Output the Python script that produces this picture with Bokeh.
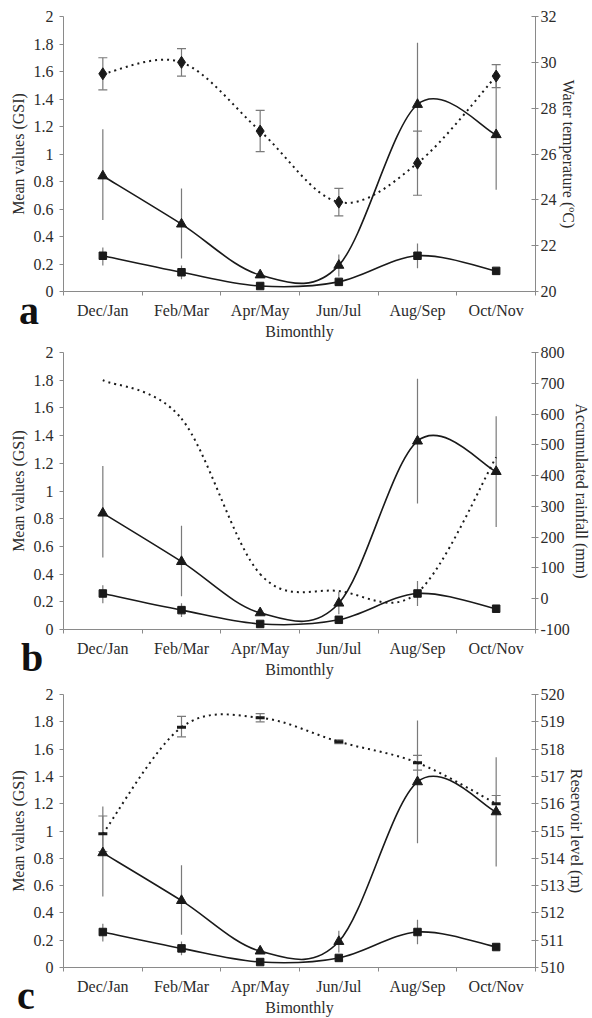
from bokeh.plotting import figure
from bokeh.models import (Range1d, LinearAxis, FixedTicker, NumeralTickFormatter,
                          ColumnDataSource, Whisker, TeeHead, Div)
from bokeh.layouts import column
from bokeh.embed import file_html
from bokeh.resources import INLINE

# ---------------- data ----------------
categories = ["Dec/Jan", "Feb/Mar", "Apr/May", "Jun/Jul", "Aug/Sep", "Oct/Nov"]

gsi_tri = [0.84, 0.49, 0.12, 0.19, 1.36, 1.14]
gsi_tri_lo = [0.52, 0.24, 0.10, 0.11, 0.91, 0.74]
gsi_tri_hi = [1.18, 0.75, 0.14, 0.27, 1.81, 1.54]

gsi_sq = [0.26, 0.14, 0.04, 0.07, 0.26, 0.15]
gsi_sq_lo = [0.19, 0.09, 0.03, 0.06, 0.17, 0.13]
gsi_sq_hi = [0.32, 0.19, 0.05, 0.08, 0.35, 0.17]

temperature = [29.5, 30.0, 27.0, 23.9, 25.6, 29.4]
temperature_lo = [28.8, 29.4, 26.1, 23.3, 24.2, 28.9]
temperature_hi = [30.2, 30.6, 27.9, 24.5, 27.0, 29.9]

rainfall = [710, 585, 80, 25, 20, 460]

reservoir = [514.9, 518.8, 519.15, 518.27, 517.5, 516.0]
reservoir_lo = [514.25, 518.45, 519.0, 518.2, 517.23, 515.7]
reservoir_hi = [515.55, 519.2, 519.3, 518.34, 517.77, 516.3]

gsi_ticks = [0, 0.2, 0.4, 0.6, 0.8, 1, 1.2, 1.4, 1.6, 1.8, 2]
temp_ticks = [20, 22, 24, 26, 28, 30, 32]
rain_ticks = [-100, 0, 100, 200, 300, 400, 500, 600, 700, 800]
res_ticks = [510, 511, 512, 513, 514, 515, 516, 517, 518, 519, 520]

FONT = "Liberation Serif"
TXT = "#2b2b2b"
AX = "#8a8a8a"
LINE = "#1a1a1a"
ERR = "#7a7a7a"

xs = list(range(len(categories)))


def smooth(xv, yv):
    """Bezier control points (Catmull-Rom style) from the data points."""
    n = len(xv)
    d = dict(x0=[], y0=[], x1=[], y1=[], cx0=[], cy0=[], cx1=[], cy1=[])
    for i in range(n - 1):
        a = max(i - 1, 0)
        b = min(i + 2, n - 1)
        d["x0"].append(xv[i]); d["y0"].append(yv[i])
        d["x1"].append(xv[i + 1]); d["y1"].append(yv[i + 1])
        d["cx0"].append(xv[i] + (xv[i + 1] - xv[a]) / 6)
        d["cy0"].append(yv[i] + (yv[i + 1] - yv[a]) / 6)
        d["cx1"].append(xv[i + 1] - (xv[b] - xv[i]) / 6)
        d["cy1"].append(yv[i + 1] - (yv[b] - yv[i]) / 6)
    return ColumnDataSource(d)


def make_panel(height, top, bottom, right_label, right_range, right_ticks):
    p = figure(width=592, height=height, x_range=Range1d(-0.5, 5.5), y_range=Range1d(0, 2),
               output_backend="svg", toolbar_location=None,
               min_border_left=63, min_border_right=50, min_border_top=top,
               min_border_bottom=bottom)
    p.outline_line_color = None
    p.xgrid.visible = False
    p.ygrid.visible = False
    p.background_fill_color = "white"
    p.border_fill_color = "white"

    xa = p.xaxis[0]
    xa.ticker = FixedTicker(ticks=xs, minor_ticks=[i - 0.5 for i in range(len(categories) + 1)])
    xa.major_label_overrides = {i: c for i, c in zip(xs, categories)}
    xa.major_tick_out = 0
    xa.major_tick_in = 0
    xa.minor_tick_out = 4
    xa.minor_tick_in = 0
    xa.minor_tick_line_color = AX
    xa.axis_line_color = AX
    xa.major_label_standoff = 6
    xa.axis_label = "Bimonthly"
    xa.axis_label_standoff = 1

    ya = p.yaxis[0]
    ya.ticker = FixedTicker(ticks=gsi_ticks, minor_ticks=[])
    ya.formatter = NumeralTickFormatter(format="0.[0]")
    ya.major_tick_out = 4
    ya.major_tick_in = 0
    ya.major_tick_line_color = AX
    ya.axis_line_color = AX
    ya.major_label_standoff = 6
    ya.axis_label = "Mean values (GSI)"
    ya.axis_label_standoff = 4

    p.extra_y_ranges = {"r": right_range}
    ra = LinearAxis(y_range_name="r", ticker=FixedTicker(ticks=right_ticks, minor_ticks=[]),
                    axis_label=right_label)
    ra.major_label_overrides = {t: str(t) for t in right_ticks}
    ra.major_tick_out = 3
    ra.major_tick_in = 4
    ra.major_tick_line_color = AX
    ra.axis_line_color = AX
    ra.major_label_standoff = 2
    ra.axis_label_standoff = 0
    p.add_layout(ra, "right")

    for ax in (xa, ya, ra):
        ax.major_label_text_font = FONT
        ax.major_label_text_font_size = "16px"
        ax.major_label_text_color = TXT
        ax.axis_label_text_font = FONT
        ax.axis_label_text_font_size = "16px"
        ax.axis_label_text_font_style = "normal"
        ax.axis_label_text_color = TXT

    p.segment(xs, gsi_tri_lo, xs, gsi_tri_hi, line_color=ERR, line_width=1.2)
    p.segment(xs, gsi_sq_lo, xs, gsi_sq_hi, line_color=ERR, line_width=1.2)
    p.bezier(x0="x0", y0="y0", x1="x1", y1="y1", cx0="cx0", cy0="cy0", cx1="cx1", cy1="cy1",
             source=smooth(xs, gsi_tri), line_color=LINE, line_width=1.6)
    p.bezier(x0="x0", y0="y0", x1="x1", y1="y1", cx0="cx0", cy0="cy0", cx1="cx1", cy1="cy1",
             source=smooth(xs, gsi_sq), line_color=LINE, line_width=1.6)
    p.scatter(xs, gsi_tri, marker="triangle", size=10, fill_color=LINE, line_color=LINE)
    p.scatter(xs, gsi_sq, marker="square", size=7.5, fill_color=LINE, line_color=LINE)
    return p


def letter_div(letter, left, lift):
    html = ("<div style=\"position:relative; left:%dpx; top:-%dpx; "
            "font-family:'Liberation Serif'; font-weight:bold; font-size:40px; "
            "line-height:34px; color:#111111;\">%s</div>" % (left, lift, letter))
    return Div(text=html, width=60, height=0, margin=0, styles={"overflow": "visible"})


pa = make_panel(342, 16, 49, "Water temperature (\u00baC)", Range1d(20, 32), temp_ticks)
pa.bezier(x0="x0", y0="y0", x1="x1", y1="y1", cx0="cx0", cy0="cy0", cx1="cx1", cy1="cy1",
          source=smooth(xs, temperature), y_range_name="r", line_color=LINE, line_width=2,
          line_dash="2 4")
ta = ColumnDataSource(dict(x=xs, lo=temperature_lo, hi=temperature_hi))
pa.add_layout(Whisker(base="x", lower="lo", upper="hi", source=ta, y_range_name="r",
                      line_color=ERR, line_width=1.2,
                      upper_head=TeeHead(size=9, line_color=ERR, line_width=1.2),
                      lower_head=TeeHead(size=9, line_color=ERR, line_width=1.2)))
pa.scatter(xs, temperature, y_range_name="r", marker="diamond", size=12,
           fill_color=LINE, line_color=LINE)

pb = make_panel(344, 10, 57, "Accumulated rainfall (mm)", Range1d(-100, 800), rain_ticks)
pb.bezier(x0="x0", y0="y0", x1="x1", y1="y1", cx0="cx0", cy0="cy0", cx1="cx1", cy1="cy1",
          source=smooth(xs, rainfall), y_range_name="r", line_color=LINE, line_width=2,
          line_dash="2 4")

pc = make_panel(332, 8, 46, "Reservoir level (m)", Range1d(510, 520), res_ticks)
pc.bezier(x0="x0", y0="y0", x1="x1", y1="y1", cx0="cx0", cy0="cy0", cx1="cx1", cy1="cy1",
          source=smooth(xs, reservoir), y_range_name="r", line_color=LINE, line_width=2,
          line_dash="2 4")
rc = ColumnDataSource(dict(x=xs, lo=reservoir_lo, hi=reservoir_hi))
pc.add_layout(Whisker(base="x", lower="lo", upper="hi", source=rc, y_range_name="r",
                      line_color=ERR, line_width=1.2,
                      upper_head=TeeHead(size=9, line_color=ERR, line_width=1.2),
                      lower_head=TeeHead(size=9, line_color=ERR, line_width=1.2)))
pc.scatter(xs, reservoir, y_range_name="r", marker="dash", size=9, line_width=3,
           line_color=LINE)

layout = column(pa, letter_div("a", 19, 48), pb, letter_div("b", 21, 45),
                pc, letter_div("c", 17, 39), spacing=0)
open("out.html", "w").write(file_html(layout, INLINE))
